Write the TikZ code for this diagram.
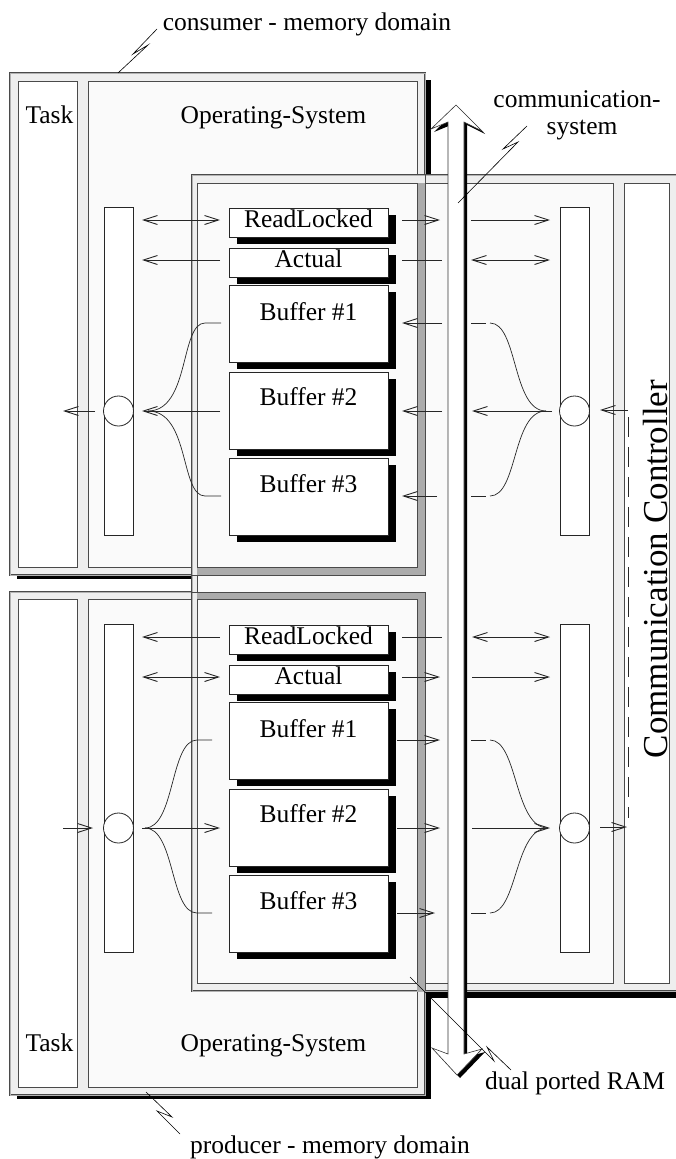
\documentclass[tikz,border=0pt]{standalone}
\usepackage{fontspec}
\setmainfont{Liberation Serif}
\usetikzlibrary{arrows.meta,calc}
\definecolor{band}{HTML}{EEEEEE}
\definecolor{innerc}{HTML}{FAFAFA}
\definecolor{ovl}{HTML}{ABABAB}
\definecolor{edgec}{HTML}{4A4A4A}
\tikzset{
  lbl/.style={font=\fontsize{25.5}{27}\selectfont, inner sep=0pt, anchor=base},
  frm/.style={draw=edgec, double=black!30, double distance=0.8pt, line width=0.6pt, fill=band},
  pane/.style={draw=edgec, line width=0.8pt},
  buf/.style={draw=black!85, line width=0.8pt, fill=white, inner sep=0pt, anchor=north west, minimum width=159pt},
  vbar/.style={draw=black!85, line width=0.8pt, fill=white, inner sep=0pt, anchor=north west, minimum width=29pt, minimum height=328pt},
  hub/.style={circle, draw=black!85, line width=0.8pt, fill=white, inner sep=0pt, minimum size=30pt},
  conn/.style={draw=black!85, line width=0.7pt},
  ar/.style={conn, -{Straight Barb[length=14pt,width=9pt,line width=0.9pt]}},
  dar/.style={conn, {Straight Barb[length=14pt,width=9pt,line width=0.9pt]}-{Straight Barb[length=14pt,width=9pt,line width=0.9pt]}},
  lead/.style={draw=black, line width=0.6pt},
}
% name, top y, height, text, baseline y
\newcommand\bufbox[5]{%
  \fill[black] (237,#2+7) rectangle (396,#2+#3+7);
  \node[buf, minimum height=#3pt] (#1) at (229,#2) {};
  \node[lbl] (#1t) at (308.5,#5) {#4};
}
% style, name, x1, y1, x2, y2
\newcommand\arr[6]{%
  \coordinate (#2a) at (#3,#4);
  \coordinate (#2b) at (#5,#6);
  \draw[#1] (#2a) -- (#2b);
}
\begin{document}
\begin{tikzpicture}[x=1pt,y=-1pt]
\useasboundingbox (0,0) rectangle (675,1159);

% shadows
\fill[black] (427,183) rectangle (680,998);
\fill[black] (17,80) rectangle (431,579);
\fill[black] (17,599) rectangle (431,1099);

% consumer domain
\draw[frm] (10,73) rectangle (425,575);
\draw[pane, fill=white] (18,81) rectangle (77,567);
\draw[pane, fill=innerc] (88,81) rectangle (417,567);
% producer domain
\draw[frm] (10,592) rectangle (425,1095);
\draw[pane, fill=white] (18,599) rectangle (77,1087);
\draw[pane, fill=innerc] (88,599) rectangle (417,1087);

% communication system
\draw[frm] (192,175) rectangle (680,991);
\draw[pane, fill=innerc] (197,183) rectangle (613,983);
\draw[pane, fill=white] (624,183) rectangle (669,983);

% overlap of domains with the communication system
\fill[ovl] (417,183) rectangle (425,575);
\fill[ovl] (197,567) rectangle (425,575);
\draw[pane] (197,567) -- (417,567) -- (417,183);
\draw[pane] (192,575) -- (425,575) -- (425,175);
\fill[ovl] (197,592) rectangle (425,599);
\fill[ovl] (417,599) rectangle (425,991);
\draw[pane] (192,592) -- (425,592) -- (425,991);
\draw[pane] (197,599) -- (417,599) -- (417,983);

% upper (consumer) buffers
\bufbox{urlk}{208}{29}{ReadLocked}{227}
\bufbox{uact}{248}{29}{Actual}{267}
\bufbox{ubf1}{285}{77}{Buffer \#1}{320}
\bufbox{ubf2}{372}{77}{Buffer \#2}{405}
\bufbox{ubf3}{458}{77}{Buffer \#3}{492}
\node[vbar] (ubarL) at (104,207) {};
\node[vbar] (ubarR) at (560,207) {};
\node[hub] (uhubL) at (118.5,411) {};
\node[hub] (uhubR) at (574.5,411) {};

% lower (producer) buffers
\bufbox{drlk}{625}{29}{ReadLocked}{644}
\bufbox{dact}{665}{29}{Actual}{684}
\bufbox{dbf1}{702}{77}{Buffer \#1}{737}
\bufbox{dbf2}{789}{77}{Buffer \#2}{822}
\bufbox{dbf3}{875}{77}{Buffer \#3}{909}
\node[vbar] (dbarL) at (104,624) {};
\node[vbar] (dbarR) at (560,624) {};
\node[hub] (dhubL) at (118.5,828) {};
\node[hub] (dhubR) at (574.5,828) {};

% ---- upper connectors, left
\arr{dar}{ua}{142}{220}{220}{220}
\arr{ar}{ub}{220}{260}{142}{260}
\arr{ar}{uc}{220}{411}{142}{411}
\arr{ar}{uf}{95}{411}{63}{411}
\coordinate (uj) at (148,411);
\coordinate (ud) at (221,323);
\coordinate (ue) at (221,496);
\draw[conn] (ud) -- (205,323) .. controls +(-25,0) and +(42,0) .. (uj);
\draw[conn] (ue) -- (205,496) .. controls +(-25,0) and +(42,0) .. (uj);
% ---- upper connectors, right
\arr{ar}{ug}{402}{220}{440}{220}
\arr{ar}{uh}{471}{220}{550}{220}
\arr{conn}{ui}{402}{260}{442}{260}
\arr{dar}{uk}{471}{260}{550}{260}
\arr{ar}{ul}{442}{323}{402}{323}
\arr{ar}{um}{442}{411}{402}{411}
\arr{ar}{un}{437}{496}{402}{496}
\arr{ar}{uo}{552}{411}{472}{411}
\arr{ar}{up}{628}{410}{600}{410}
\coordinate (ujr) at (546,411);
\arr{conn}{uq}{471}{323}{486}{323}
\arr{conn}{ur}{471}{496}{486}{496}
\draw[conn] (490,323) .. controls +(28,0) and +(-34,0) .. (ujr);
\draw[conn] (490,496) .. controls +(28,0) and +(-34,0) .. (ujr);
\coordinate (dsa) at (628,417);
\coordinate (dsb) at (628,818);
\draw[conn, dash pattern=on 20pt off 10pt] (dsa) -- (dsb);

% ---- lower connectors, left
\arr{ar}{da}{220}{637}{142}{637}
\arr{dar}{db}{142}{677}{220}{677}
\arr{ar}{dc}{142}{828}{220}{828}
\arr{ar}{df}{63}{828}{93}{828}
\coordinate (dj) at (145,828);
\coordinate (dd) at (212,740);
\coordinate (de) at (212,913);
\draw[conn] (dj) .. controls +(30,0) and +(-27,0) .. (197,740) -- (dd);
\draw[conn] (dj) .. controls +(30,0) and +(-27,0) .. (197,913) -- (de);
% ---- lower connectors, right
\arr{conn}{dg}{402}{637}{442}{637}
\arr{dar}{dh}{472}{637}{550}{637}
\arr{ar}{di}{402}{677}{440}{677}
\arr{ar}{dk}{472}{677}{550}{677}
\arr{ar}{dl}{397}{740}{440}{740}
\arr{ar}{dm}{397}{828}{440}{828}
\arr{ar}{dn}{397}{913}{435}{913}
\arr{ar}{do}{472}{828}{550}{828}
\arr{ar}{dp}{600}{827}{627}{827}
\coordinate (djr) at (548,828);
\arr{conn}{dq}{471}{740}{486}{740}
\arr{conn}{dr}{471}{913}{486}{913}
\draw[conn] (490,740) .. controls +(28,0) and +(-34,0) .. (djr);
\draw[conn] (490,913) .. controls +(28,0) and +(-34,0) .. (djr);

% dual ported RAM bus (double-headed hollow arrow)
\fill[black, shift={(3,3)}] (456,105) -- (482,131) -- (464,122) -- (464,1054) -- (482,1049) -- (457,1075) -- (432,1048) -- (448,1054) -- (448,122) -- (431,129) -- cycle;
\draw[fill=white, draw=black!80, line width=0.6pt] (456,105) -- (482,131) -- (464,122) -- (464,1054) -- (482,1049) -- (457,1075) -- (432,1048) -- (448,1054) -- (448,122) -- (431,129) -- cycle;

% labels
\node[lbl] (cons) at (307,30) {consumer - memory domain};
\node[lbl] (cs1) at (577,107) {communication-};
\node[lbl] (cs2) at (582,134) {system};
\node[lbl] (tsk1) at (49.5,123) {Task};
\node[lbl] (os1) at (273.5,123) {Operating-System};
\node[lbl] (tsk2) at (49.5,1051) {Task};
\node[lbl] (os2) at (273.5,1051) {Operating-System};
\node[lbl] (dpr) at (575,1089) {dual ported RAM};
\node[lbl] (prod) at (330,1153) {producer - memory domain};
\node[font=\fontsize{35}{40}\selectfont, inner sep=0pt, anchor=base, rotate=90] (cct) at (667,569) {Communication Controller};

% lightning leaders
\coordinate (l1a) at (157,29); \coordinate (l1b) at (118,73);
\draw[lead] (l1a) -- (133,54) -- (148,45) -- (l1b);
\coordinate (l2a) at (527,126); \coordinate (l2b) at (458,203);
\draw[lead] (l2a) -- (503,149) -- (518,142) -- (l2b);
\coordinate (l3a) at (511,1070); \coordinate (l3b) at (410,977);
\draw[lead] (l3a) -- (487,1047) -- (494,1061) -- (l3b);
\coordinate (l4a) at (180,1134); \coordinate (l4b) at (146,1092);
\draw[lead] (l4a) -- (157,1111) -- (172,1117) -- (l4b);
\end{tikzpicture}
\end{document}
